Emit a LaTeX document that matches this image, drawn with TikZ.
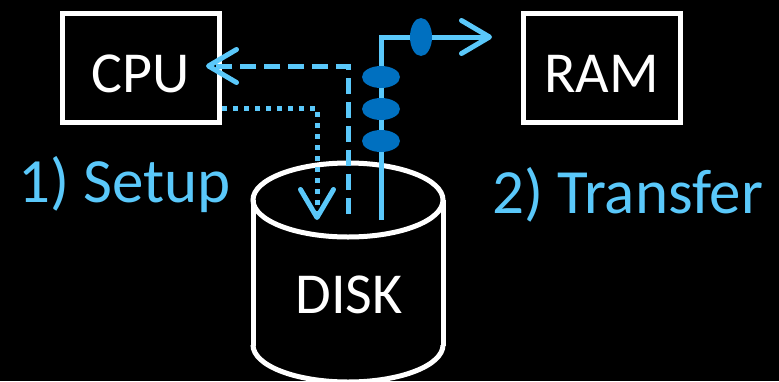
\documentclass[tikz,border=0pt]{standalone}
\usepackage{fontspec}
\setmainfont{Carlito}
\usetikzlibrary{arrows.meta,shapes.geometric}
\definecolor{lblue}{RGB}{90,200,250}
\definecolor{dblue}{RGB}{0,112,192}
\tikzset{
  box/.style={draw=white, line width=5pt, minimum width=157pt, minimum height=109pt, inner sep=0pt,
    text=white, font=\fontsize{58}{60}\selectfont, text height=48pt, text depth=0pt},
  lab/.style={text=lblue, font=\fontsize{63}{65}\selectfont, inner sep=0pt, anchor=base west},
  flow/.style={draw=lblue, line width=5pt, line join=miter},
  barb/.style={-{Straight Barb[length=28pt,width=33pt,round]}},
  pkt/.style={ellipse, fill=dblue, inner sep=0pt},
  hpkt/.style={pkt, minimum width=38pt, minimum height=22pt},
  vpkt/.style={pkt, minimum width=22pt, minimum height=38pt},
  cyl/.style={draw=white, line width=5pt}
}
\begin{document}
\begin{tikzpicture}[x=1pt,y=-1pt]
\useasboundingbox (0,0) rectangle (779,381);
\fill[black] (0,0) rectangle (779,381);
% boxes
\node[box] (cpu) at (141,68) {CPU};
\node[box] (ram) at (601.5,68) {RAM};
% disk cylinder
\fill[black] (253,200) rectangle (443,345);
\begin{scope}
  \clip (240,345) rectangle (460,400);
  \draw[cyl, fill=black] (348,345) ellipse [x radius=95, y radius=37];
\end{scope}
\draw[cyl] (253,200) -- (253,346) (443,200) -- (443,346);
\draw[cyl] (348,200) ellipse [x radius=95, y radius=37];
\node[text=white, font=\fontsize{58}{60}\selectfont, inner sep=0pt, anchor=base] (disk) at (349,313) {DISK};
% labels
\node[lab] (setup) at (18,202) {1) Setup};
\node[lab] (transfer) at (492,213) {2) Transfer};
% connector endpoints
\coordinate (dashStart) at (348,214);
\coordinate (dashCorner) at (348,66);
\coordinate (cpuIn) at ([xshift=-16pt]cpu.east |- dashCorner);
\coordinate (dotStart) at (cpu.east |- 0,108);
\coordinate (dotCorner) at (317,108);
\coordinate (diskIn) at (317,220);
\coordinate (solStart) at (381,220);
\coordinate (solCorner) at (381,37);
\coordinate (ramOut) at (492,37);
% flows
\draw[flow, barb, dash pattern=on 16pt off 8pt] (dashStart) -- (dashCorner) -- (cpuIn);
\draw[flow, barb, dash pattern=on 5pt off 6pt] (dotStart) -- (dotCorner) -- (diskIn);
\draw[flow, barb] (solStart) -- (solCorner) -- (ramOut);
% packets
\node[hpkt] (p1) at (381,77) {};
\node[hpkt] (p2) at (381,109) {};
\node[hpkt] (p3) at (381,141) {};
\node[vpkt] (p4) at (421,37) {};
\end{tikzpicture}
\end{document}
